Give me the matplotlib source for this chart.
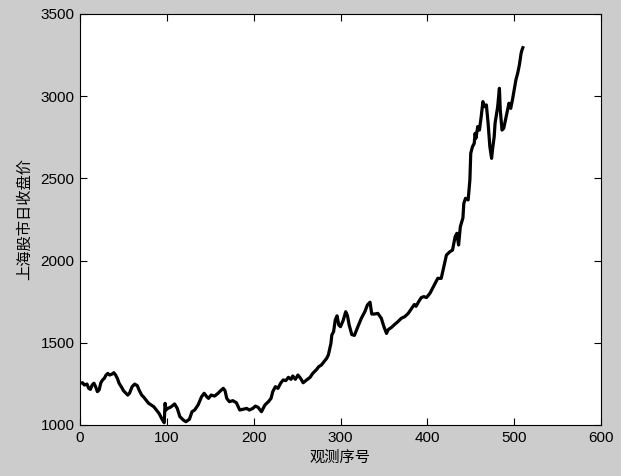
import matplotlib
matplotlib.use("Agg")
import matplotlib.pyplot as plt

obs_index = [0, 3, 5, 8, 10, 12, 14, 16, 18, 20, 22, 24, 26, 28, 30, 32, 34, 37, 39, 41,
             43, 45, 48, 50, 53, 55, 57, 60, 63, 66, 68, 71, 73, 76, 79, 82, 85, 88, 91, 93,
             95, 97, 98, 99, 101, 103, 105, 109, 112, 115, 119, 122, 126, 129, 132, 136, 140, 143, 146, 148,
             151, 155, 159, 162, 165, 167, 169, 172, 176, 180, 184, 188, 192, 195, 199, 202, 205, 209, 213, 217,
             220, 222, 225, 228, 231, 234, 237, 240, 243, 245, 248, 251, 254, 257, 261, 265, 268, 272, 275, 278,
             281, 284, 286, 289, 290, 292, 294, 296, 298, 300, 303, 306, 308, 310, 313, 316, 320, 324, 328, 331,
             334, 336, 339, 343, 347, 350, 353, 355, 359, 362, 366, 370, 374, 378, 382, 385, 387, 390, 393, 396,
             399, 403, 406, 409, 412, 416, 419, 422, 426, 429, 432, 434, 436, 438, 441, 442, 444, 447, 449, 450,
             452, 454, 455, 456, 458, 460, 462, 464, 466, 468, 470, 472, 474, 475, 477, 478, 481, 483, 484, 486,
             488, 490, 492, 494, 496, 498, 500, 502, 504, 506, 508, 509, 510]
close_price = [1254, 1257, 1243, 1249, 1223, 1217, 1243, 1254, 1233, 1203, 1213, 1257, 1274, 1284, 1304, 1314, 1304, 1310, 1318, 1304,
               1284, 1254, 1229, 1209, 1193, 1182, 1193, 1233, 1249, 1239, 1213, 1182, 1172, 1152, 1132, 1122, 1111, 1091, 1071, 1051,
               1030, 1014, 1132, 1091, 1101, 1105, 1111, 1128, 1101, 1051, 1030, 1020, 1035, 1081, 1091, 1122, 1172, 1193, 1172, 1162,
               1182, 1176, 1193, 1209, 1223, 1209, 1162, 1142, 1148, 1136, 1091, 1096, 1101, 1091, 1101, 1115, 1108, 1081, 1122, 1142,
               1162, 1203, 1233, 1223, 1254, 1274, 1270, 1290, 1278, 1298, 1278, 1304, 1284, 1257, 1274, 1290, 1314, 1335, 1355, 1365,
               1385, 1405, 1426, 1497, 1547, 1567, 1639, 1664, 1608, 1598, 1635, 1689, 1665, 1608, 1550, 1545, 1598, 1649, 1689, 1730,
               1747, 1675, 1675, 1679, 1649, 1598, 1557, 1580, 1595, 1610, 1628, 1649, 1659, 1679, 1710, 1733, 1722, 1750, 1775, 1781,
               1775, 1801, 1831, 1862, 1892, 1892, 1963, 2034, 2054, 2064, 2145, 2166, 2095, 2206, 2260, 2348, 2379, 2369, 2490, 2653,
               2693, 2713, 2774, 2744, 2815, 2794, 2875, 2967, 2936, 2947, 2835, 2693, 2622, 2673, 2754, 2835, 2936, 3048, 2916, 2794,
               2805, 2855, 2906, 2957, 2926, 2977, 3038, 3099, 3139, 3190, 3261, 3281, 3295]

x_ticks = [0, 100, 200, 300, 400, 500, 600]
y_ticks = [1000, 1500, 2000, 2500, 3000, 3500]
x_label = "观测序号"
y_label = "上海股市日收盘价"

plt.rcParams['font.family'] = ['Liberation Sans', 'Noto Sans CJK SC', 'DejaVu Sans']

fig = plt.figure(figsize=(6.21, 4.76), dpi=100, facecolor='#cccccc')
ax = fig.add_axes([80/621, 1 - 425/476, 521/621, 411/476])
ax.set_facecolor('white')
ax.plot(obs_index, close_price, color='black', linewidth=2.3)

ax.set_xlim(0, 600)
ax.set_ylim(1000, 3500)
ax.set_xticks(x_ticks)
ax.set_yticks(y_ticks)
ax.tick_params(direction='in', top=True, right=True, length=5, width=0.8,
               labelsize=11, colors='black', pad=4)
for s in ax.spines.values():
    s.set_linewidth(0.8)
    s.set_color('black')

ax.set_xlabel(x_label, family=['Noto Sans CJK SC', 'DejaVu Sans'], fontsize=11, labelpad=3)
ax.set_ylabel(y_label, family=['Noto Sans CJK SC', 'DejaVu Sans'], fontsize=11, labelpad=5)

fig.savefig('out.png', dpi=100, facecolor=fig.get_facecolor())
